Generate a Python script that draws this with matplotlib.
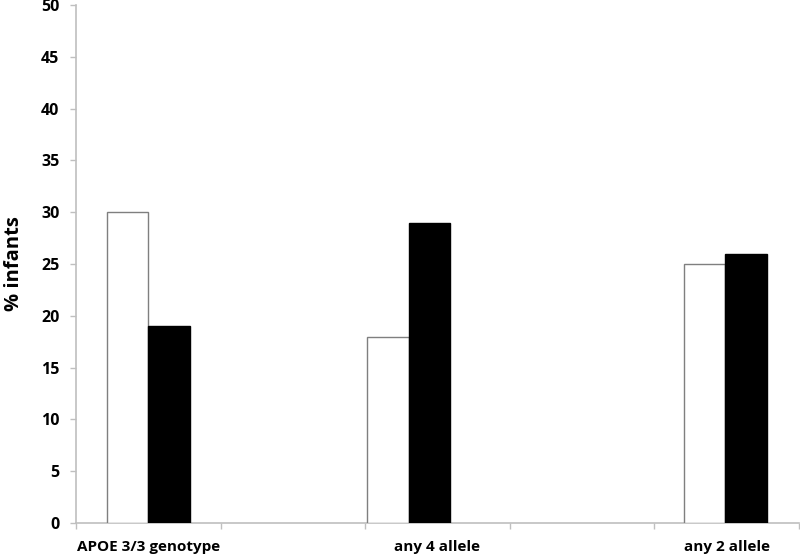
import matplotlib
matplotlib.use("Agg")
import matplotlib.pyplot as plt
from matplotlib.ticker import FixedLocator

label_pos = [0, 2, 4]
label_text = ["APOE 3/3 genotype", "any 4 allele", "any 2 allele"]
white_vals = [30, 18, 25]
black_vals = [19, 29, 26]
group_centers = [0.0, 1.80, 3.99]
yticks = [0, 5, 10, 15, 20, 25, 30, 35, 40, 45, 50]

plt.rcParams['font.family'] = ['Open Sans', 'DejaVu Sans']

fig = plt.figure(figsize=(8, 5.55), dpi=100)
ax = fig.add_axes([76/800, 32/555, 723/800, 518/555])

w = 0.287
for c, wv, bv in zip(group_centers, white_vals, black_vals):
    ax.bar(c - w/2, wv, width=w, color='white', edgecolor='#7f7f7f', linewidth=1.0, zorder=3)
    ax.bar(c + w/2, bv, width=w, color='black', edgecolor='black', linewidth=1.0, zorder=3)

ax.set_xlim(-0.5, 4.5)
ax.set_ylim(0, 50)
ax.set_yticks(yticks)
ax.set_yticklabels([str(v) for v in yticks], fontsize=11.5, fontweight='bold')

ax.xaxis.set_major_locator(FixedLocator([-0.5, 0.5, 1.5, 2.5, 3.5, 4.5]))
ax.set_xticklabels([])
ax.set_xticks(label_pos, minor=True)
ax.set_xticklabels(label_text, minor=True, fontsize=11, fontweight='bold')
ax.tick_params(axis='x', which='minor', length=0, pad=12)
ax.tick_params(axis='x', which='major', length=4, color='#bfbfbf', width=1)
ax.tick_params(axis='y', length=4, color='#bfbfbf', width=1, pad=8)

for s in ['top', 'right']:
    ax.spines[s].set_visible(False)
for s in ['left', 'bottom']:
    ax.spines[s].set_color('#bfbfbf')
    ax.spines[s].set_linewidth(1.2)

ax.set_ylabel('% infants', fontsize=14.5, fontweight='bold', labelpad=12)

fig.savefig('out.png', dpi=100)
